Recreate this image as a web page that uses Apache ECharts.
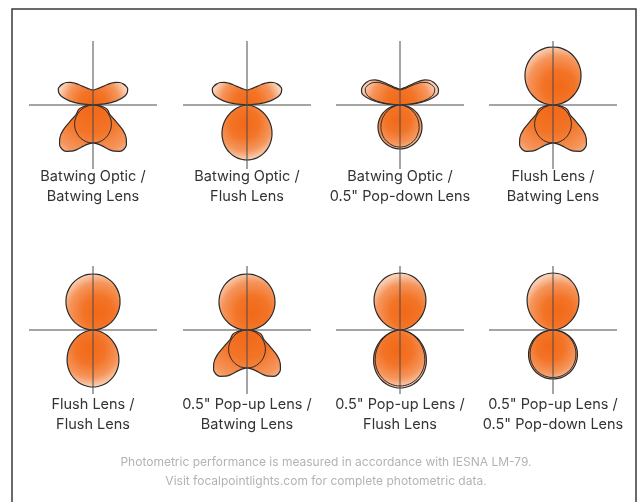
<!DOCTYPE html>
<html><head><meta charset="utf-8">
<script src="https://cdn.jsdelivr.net/npm/echarts@6/dist/echarts.min.js"></script>
<style>html,body{margin:0;padding:0;background:#fff}#c{width:639px;height:502px}</style>
</head><body><div id="c"></div>
<script>
// angles measured from the beam axis (nadir for down lobes, zenith for up lobes), degrees
const angles = [0,5,10,15,20,25,30,35,40,45,50,55,60,65,70,75,80,85,90];

// relative intensity (radius max = 64)
const batwingOpticUp      = [15,15.3,16,16.8,18,19.8,22,25,28.5,32,35,36.8,38,38.3,36.5,32.5,24,12,0];
const batwingOpticUpWide  = [16,16.3,17,18,19.5,21.5,24,27.5,31.5,35.5,38.5,40.3,41.3,41.8,41,38,29,15,0];
const batwingLensDown     = [38,38.7,40.5,43.5,47.5,51,53.5,54,52,47,39,27,20,17.5,16,14,10,5,0];
const batwingLensCore     = [38,37.8,37.4,36.6,35.5,34.1,32.4,30.5,28.4,26.0,23.4,20.6,17.7,14.7,11.7,8.6,5.5,2.6,0];
const flushDownA          = [55,54.7,53.9,52.6,50.7,48.4,45.6,42.4,38.9,35.1,31.0,26.7,22.3,18.0,13.6,9.5,5.6,2.3,0];
const popDownOuterA       = [44,43.8,43.3,42.5,41.3,39.9,38.1,36.0,33.7,31.1,28.3,25.2,22.0,18.6,15.0,11.4,7.6,3.8,0];
const popDownInnerA       = [42,41.8,41.2,40.1,38.7,37.0,34.8,32.4,29.7,26.8,23.6,20.4,17.0,13.7,10.4,7.2,4.3,1.8,0];
const flushUpA            = [58,57.8,57.0,55.8,54.2,52.0,49.5,46.6,43.3,39.6,35.7,31.5,27.1,22.5,17.8,13.1,8.5,4.0,0];
const flushUpB            = [56,55.8,55.1,53.9,52.3,50.3,47.8,45.0,41.8,38.2,34.4,30.4,26.1,21.7,17.2,12.7,8.2,3.8,0];
const flushDownB          = [57,56.7,55.9,54.5,52.6,50.2,47.3,44.0,40.3,36.3,32.1,27.7,23.1,18.6,14.1,9.8,5.9,2.4,0];
const popUpUpA            = [56,55.8,55.1,54.1,52.6,50.8,48.5,45.9,42.9,39.6,36.0,32.1,28.0,23.7,19.2,14.5,9.7,4.9,0];
const popUpUpB            = [57,56.7,55.9,54.5,52.6,50.2,47.3,44.0,40.3,36.3,32.1,27.7,23.1,18.6,14.1,9.8,5.9,2.4,0];
const flushDownOuterC     = [58,57.7,56.9,55.4,53.5,51.0,48.1,44.8,41.0,37.0,32.7,28.2,23.5,18.9,14.4,10.0,6.0,2.4,0];
const flushDownInnerC     = [56,55.7,54.8,53.3,51.3,48.8,45.8,42.4,38.6,34.5,30.2,25.7,21.2,16.8,12.5,8.4,4.8,1.8,0];
const popDownOuterB       = [49,48.8,48.3,47.3,46.0,44.4,42.4,40.1,37.5,34.6,31.5,28.1,24.5,20.7,16.8,12.7,8.5,4.3,0];
const popDownInnerB       = [47.5,47.3,46.7,45.7,44.4,42.6,40.6,38.1,35.4,32.4,29.2,25.8,22.2,18.4,14.6,10.7,6.9,3.2,0];

const labels = [
  'Batwing Optic /\nBatwing Lens',
  'Batwing Optic /\nFlush Lens',
  'Batwing Optic /\n0.5" Pop-down Lens',
  'Flush Lens /\nBatwing Lens',
  'Flush Lens /\nFlush Lens',
  '0.5" Pop-up Lens /\nBatwing Lens',
  '0.5" Pop-up Lens /\nFlush Lens',
  '0.5" Pop-up Lens /\n0.5" Pop-down Lens'
];
const footerLines = [
  'Photometric performance is measured in accordance with IESNA LM-79.',
  'Visit focalpointlights.com for complete photometric data.'
];

// per panel: filled up lobe, up outline, filled down lobe, down outline
const panels = [
  {up: batwingOpticUp,     upLine: null,           down: batwingLensDown, downLine: batwingLensCore},
  {up: batwingOpticUp,     upLine: null,           down: flushDownA,      downLine: null},
  {up: batwingOpticUpWide, upLine: batwingOpticUp, down: popDownOuterA,   downLine: popDownInnerA},
  {up: flushUpA,           upLine: null,           down: batwingLensDown, downLine: batwingLensCore},
  {up: flushUpB,           upLine: null,           down: flushDownB,      downLine: null},
  {up: popUpUpA,           upLine: null,           down: batwingLensDown, downLine: batwingLensCore},
  {up: popUpUpB,           upLine: null,           down: flushDownOuterC, downLine: flushDownInnerC},
  {up: popUpUpB,           upLine: null,           down: popDownOuterB,   downLine: popDownInnerB}
];

const colX = [93, 247, 400, 553];
const rowY = [105, 330];
const labelY = [187, 415];
const R = 64;

function lobe(vals, dir) {
  const pts = [];
  for (let i = angles.length - 1; i >= 0; i--) pts.push([vals[i], dir === 'down' ? 180 - angles[i] : angles[i]]);
  for (let i = 1; i < angles.length; i++) pts.push([vals[i], dir === 'down' ? 180 + angles[i] : 360 - angles[i]]);
  return pts;
}
function grad(dir, batwing) {
  let cx, cy, r;
  if (batwing) { cx = 0.5; cy = dir === 'up' ? 0.95 : 0.12; r = dir === 'up' ? 1.55 : 1.25; }
  else { cx = dir === 'up' ? 0.6 : 0.45; cy = dir === 'up' ? 0.68 : 0.34; r = 0.72; }
  return {type: 'radial', x: cx, y: cy, r: r,
    colorStops: [{offset: 0, color: '#F26818'}, {offset: 0.4, color: '#F37427'},
      {offset: 0.75, color: '#F5955C'}, {offset: 1, color: '#FAD0B5'}]};
}

const polar = [], angleAxis = [], radiusAxis = [], series = [], graphic = [];
panels.forEach((p, i) => {
  const cx = colX[i % 4], cy = rowY[Math.floor(i / 4)];
  polar.push({center: [cx, cy], radius: R});
  angleAxis.push({polarIndex: i, type: 'value', min: 0, max: 360, interval: 90, startAngle: 90, z: 10,
    axisLine: {show: false}, axisTick: {show: false}, axisLabel: {show: false},
    splitLine: {show: true, lineStyle: {color: '#4a4a4a', width: 1}}});
  radiusAxis.push({polarIndex: i, type: 'value', min: 0, max: R,
    axisLine: {show: false}, axisTick: {show: false}, axisLabel: {show: false}, splitLine: {show: false}});
  const base = {type: 'line', coordinateSystem: 'polar', polarIndex: i, symbol: 'none', smooth: 0.35,
    silent: true, animation: false, clip: false};
  const upBat = p.up[0] < p.up[10];
  const downBat = p.down[0] < p.down[7];
  series.push(Object.assign({}, base, {data: lobe(p.up, 'up'), z: 2,
    lineStyle: {color: '#2a2a2a', width: 1.2}, areaStyle: {color: grad('up', upBat), opacity: 1}}));
  series.push(Object.assign({}, base, {data: lobe(p.down, 'down'), z: 2,
    lineStyle: {color: '#2a2a2a', width: 1.2}, areaStyle: {color: grad('down', downBat), opacity: 1}}));
  if (p.upLine) series.push(Object.assign({}, base, {data: lobe(p.upLine, 'up'), z: 3, lineStyle: {color: '#2a2a2a', width: 1}}));
  if (p.downLine) series.push(Object.assign({}, base, {data: lobe(p.downLine, 'down'), z: 3, lineStyle: {color: '#2a2a2a', width: 1}}));
  graphic.push({type: 'text', x: cx, y: labelY[Math.floor(i / 4)], silent: true,
    style: {text: labels[i], fill: '#333333', font: '14.5px Inter, Roboto, sans-serif',
      textAlign: 'center', textVerticalAlign: 'middle', lineHeight: 20}});
});
graphic.push({type: 'rect', silent: true, shape: {x: 12, y: 9, width: 624, height: 600},
  style: {fill: 'none', stroke: '#3a3a3a', lineWidth: 1.5}});
graphic.push({type: 'text', x: 326, y: 472, silent: true,
  style: {text: footerLines.join('\n'), fill: '#b3b3b3', font: '12px Inter, Roboto, sans-serif',
    textAlign: 'center', textVerticalAlign: 'middle', lineHeight: 19}});

const chart = echarts.init(document.getElementById('c'));
chart.setOption({animation: false, backgroundColor: '#fff', polar, angleAxis, radiusAxis, series, graphic});
</script></body></html>
